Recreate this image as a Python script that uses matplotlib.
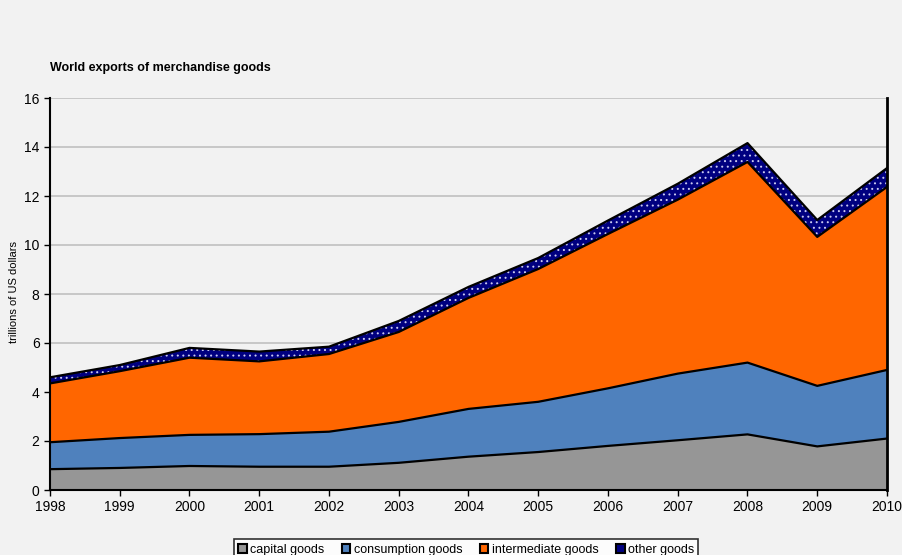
import matplotlib
matplotlib.use("Agg")
import matplotlib.pyplot as plt
import numpy as np
from matplotlib.patches import Patch

plt.rcParams['font.family'] = ['Liberation Sans', 'DejaVu Sans']
plt.rcParams['hatch.linewidth'] = 0.7

years = [1998, 1999, 2000, 2001, 2002, 2003, 2004, 2005, 2006, 2007, 2008, 2009, 2010]
capital_goods = [0.85, 0.90, 0.98, 0.95, 0.95, 1.11, 1.36, 1.55, 1.80, 2.03, 2.27, 1.78, 2.10]
consumption_goods = [1.10, 1.22, 1.27, 1.33, 1.43, 1.67, 1.95, 2.05, 2.35, 2.72, 2.93, 2.47, 2.80]
intermediate_goods = [2.40, 2.73, 3.15, 2.97, 3.17, 3.67, 4.53, 5.42, 6.30, 7.10, 8.19, 6.08, 7.47]
other_goods = [0.25, 0.25, 0.40, 0.40, 0.30, 0.45, 0.45, 0.45, 0.55, 0.65, 0.77, 0.69, 0.77]

series = [
    ("capital goods", capital_goods, "#969696"),
    ("consumption goods", consumption_goods, "#4f81bd"),
    ("intermediate goods", intermediate_goods, "#ff6600"),
    ("other goods", other_goods, "#000080"),
]

bg = "#f2f2f2"
fig = plt.figure(figsize=(9.03, 5.55), dpi=100, facecolor=bg)
ax = fig.add_axes([50 / 903, 1 - 490 / 555, (887 - 50) / 903, (490 - 98) / 555])
ax.set_facecolor(bg)

x = np.array(years)
base = np.zeros(len(years))
handles = []
for name, vals, color in series:
    top = base + np.array(vals)
    ax.fill_between(x, base, top, facecolor=color, edgecolor="none", zorder=2)
    if name == "other goods":
        ax.fill_between(x, base, top, facecolor="none", edgecolor="#c8c8f0",
                        hatch="...", linewidth=0, zorder=2.5)
    ax.plot(x, top, color="black", lw=1.6, zorder=3)
    handles.append(Patch(facecolor=color, edgecolor="black", linewidth=1.5))
    base = top

ax.set_xlim(1998, 2010)
ax.set_ylim(0, 16)
ax.set_xticks(years)
ax.set_yticks(range(0, 17, 2))
ax.tick_params(labelsize=10, direction="out", length=4, width=1, colors="black")
ax.yaxis.grid(True, color="#c0c0c0", lw=1.2, zorder=0)
ax.set_axisbelow(True)
ax.spines["top"].set_visible(False)
ax.spines["right"].set_linewidth(2)
ax.spines["left"].set_linewidth(1.5)
ax.spines["bottom"].set_linewidth(1.5)
ax.spines["right"].set_zorder(4)

fig.text(14 / 903, 1 - 292 / 555, "trillions of US dollars", fontsize=8,
         rotation=90, ha="center", va="center")

fig.text(50 / 903, 1 - 68 / 555, "World exports of merchandise goods",
         fontsize=9, fontweight="bold", va="center", ha="left")

leg = fig.legend(handles, [s[0] for s in series], loc="upper center",
                 bbox_to_anchor=(466 / 903, 1 - 533 / 555), ncol=4, fontsize=9,
                 frameon=True, fancybox=False, edgecolor="black",
                 handlelength=0.7, handleheight=0.7, handletextpad=0.25,
                 columnspacing=1.4, borderpad=0.35)
leg.get_frame().set_facecolor("white")
leg.get_frame().set_linewidth(1.2)

fig.savefig("out.png", dpi=100, facecolor=bg)
